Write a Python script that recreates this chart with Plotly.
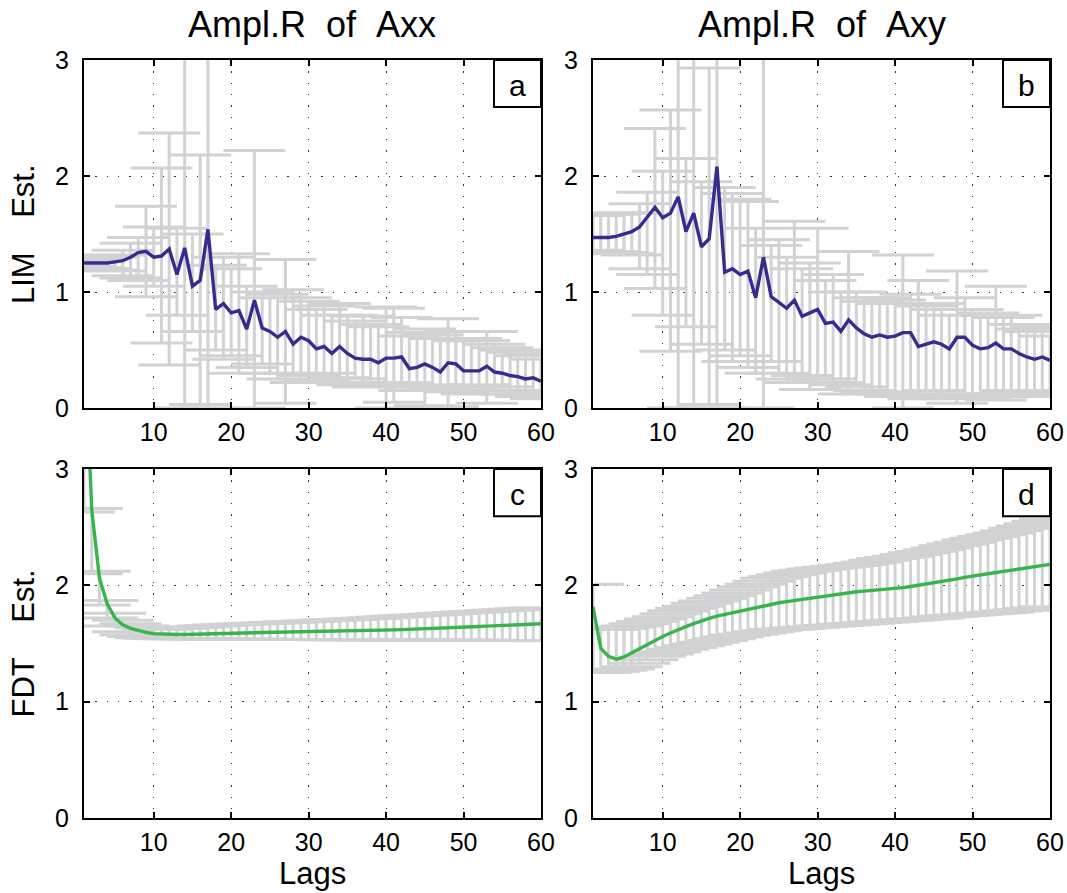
import plotly.graph_objects as go

# ---------------- data ----------------
lags = list(range(1, 61))

lim_axx = [1.25, 1.25, 1.25, 1.25, 1.26, 1.27, 1.30, 1.34, 1.35, 1.30,
           1.31, 1.37, 1.15, 1.38, 1.05, 1.10, 1.54, 0.85, 0.90, 0.82,
           0.84, 0.68, 0.93, 0.69, 0.66, 0.61, 0.66, 0.55, 0.61, 0.58,
           0.51, 0.53, 0.47, 0.53, 0.47, 0.43, 0.42, 0.42, 0.39, 0.43,
           0.43, 0.44, 0.34, 0.35, 0.38, 0.35, 0.31, 0.39, 0.38, 0.32,
           0.32, 0.32, 0.36, 0.31, 0.30, 0.28, 0.27, 0.25, 0.26, 0.23]
lim_axx_lo = [1.22, 1.21, 1.20, 1.19, 1.18, 1.14, 1.12, 1.10, 0.96, 1.05,
              0.56, 0.37, 0.80, 0.00, 0.66, 0.03, 0.00, 0.50, 0.42, 0.45,
              0.30, 0.35, 0.00, 0.38, 0.30, 0.25, 0.04, 0.30, 0.22, 0.28,
              0.24, 0.30, 0.22, 0.26, 0.20, 0.25, 0.18, 0.22, 0.20, 0.00,
              0.05, 0.22, 0.15, 0.18, 0.02, 0.20, 0.16, 0.01, 0.14, 0.18,
              0.12, 0.20, 0.04, 0.15, 0.18, 0.12, 0.15, 0.10, 0.14, 0.08]
lim_axx_hi = [1.27, 1.28, 1.29, 1.30, 1.32, 1.36, 1.42, 1.47, 1.74, 1.56,
              2.07, 2.37, 1.55, 3.20, 1.50, 2.18, 3.20, 1.23, 1.30, 1.20,
              1.33, 1.05, 2.22, 1.00, 0.95, 0.98, 1.28, 1.02, 0.95, 0.92,
              0.85, 0.88, 0.80, 0.90, 0.80, 0.75, 0.79, 0.72, 0.70, 0.87,
              0.86, 0.78, 0.62, 0.65, 0.68, 0.63, 0.60, 0.77, 0.66, 0.58,
              0.60, 0.58, 0.66, 0.55, 0.52, 0.50, 0.48, 0.45, 0.47, 0.42]

lim_axy = [1.47, 1.47, 1.47, 1.48, 1.50, 1.52, 1.56, 1.64, 1.73, 1.64,
           1.68, 1.82, 1.52, 1.68, 1.39, 1.46, 2.08, 1.17, 1.20, 1.15,
           1.18, 0.95, 1.30, 0.96, 0.91, 0.86, 0.93, 0.79, 0.82, 0.85,
           0.73, 0.74, 0.66, 0.76, 0.69, 0.64, 0.61, 0.63, 0.61, 0.62,
           0.65, 0.65, 0.53, 0.55, 0.57, 0.55, 0.51, 0.61, 0.61, 0.54,
           0.51, 0.52, 0.56, 0.51, 0.51, 0.47, 0.44, 0.42, 0.44, 0.41]
lim_axy_lo = [1.36, 1.35, 1.35, 1.34, 1.33, 1.32, 1.20, 1.15, 1.03, 0.80,
              0.49, 0.00, 0.70, 0.00, 0.55, 0.03, 0.00, 0.50, 0.40, 0.45,
              0.35, 0.30, 0.00, 0.40, 0.30, 0.25, 0.22, 0.28, 0.16, 0.25,
              0.25, 0.22, 0.20, 0.12, 0.18, 0.15, 0.14, 0.13, 0.12, 0.10,
              0.00, 0.12, 0.08, 0.12, 0.15, 0.10, 0.08, 0.04, 0.12, 0.10,
              0.09, 0.12, 0.07, 0.12, 0.15, 0.10, 0.12, 0.10, 0.13, 0.15]
lim_axy_hi = [1.66, 1.67, 1.67, 1.68, 1.68, 1.68, 1.76, 1.86, 2.41, 2.04,
              2.57, 3.20, 2.15, 3.20, 1.95, 2.93, 3.20, 1.90, 1.85, 1.80,
              1.78, 1.55, 3.20, 1.40, 1.45, 1.30, 1.61, 1.20, 1.25, 1.55,
              1.10, 1.15, 1.00, 1.35, 1.00, 0.95, 0.92, 0.95, 0.90, 0.93,
              1.32, 0.98, 1.10, 0.88, 0.90, 0.85, 0.80, 1.18, 0.95, 0.85,
              0.80, 0.82, 1.05, 0.78, 0.80, 0.72, 0.68, 0.66, 0.70, 0.62]

fdt_axx = [4.20, 2.65, 2.06, 1.84, 1.72, 1.66, 1.63, 1.61, 1.595, 1.585,
           1.580, 1.578, 1.577, 1.577, 1.578, 1.580, 1.582, 1.584, 1.586, 1.588,
           1.590, 1.591, 1.592, 1.594, 1.595, 1.596, 1.597, 1.598, 1.599, 1.600,
           1.601, 1.603, 1.604, 1.605, 1.607, 1.608, 1.610, 1.611, 1.613, 1.615,
           1.617, 1.619, 1.621, 1.623, 1.626, 1.628, 1.631, 1.634, 1.637, 1.640,
           1.643, 1.646, 1.649, 1.652, 1.655, 1.658, 1.661, 1.664, 1.667, 1.670]
fdt_axx_lo = [2.63, 2.10, 1.83, 1.72, 1.65, 1.60, 1.575, 1.56, 1.55, 1.545,
              1.542, 1.540, 1.540, 1.540, 1.539, 1.539, 1.538, 1.538, 1.538, 1.537,
              1.537, 1.537, 1.536, 1.536, 1.536, 1.535, 1.535, 1.535, 1.535, 1.534,
              1.534, 1.534, 1.533, 1.533, 1.533, 1.532, 1.532, 1.532, 1.531, 1.531,
              1.531, 1.530, 1.530, 1.530, 1.529, 1.529, 1.529, 1.528, 1.528, 1.528,
              1.527, 1.527, 1.527, 1.526, 1.526, 1.526, 1.525, 1.525, 1.525, 1.524]
fdt_axx_hi = [6.00, 2.66, 2.12, 1.87, 1.76, 1.70, 1.67, 1.65, 1.635, 1.625,
              1.625, 1.628, 1.632, 1.636, 1.640, 1.645, 1.650, 1.654, 1.658, 1.662,
              1.665, 1.668, 1.671, 1.674, 1.677, 1.680, 1.683, 1.686, 1.689, 1.692,
              1.695, 1.698, 1.701, 1.704, 1.707, 1.710, 1.714, 1.718, 1.722, 1.726,
              1.730, 1.734, 1.738, 1.742, 1.746, 1.750, 1.754, 1.758, 1.762, 1.766,
              1.770, 1.774, 1.778, 1.782, 1.786, 1.790, 1.794, 1.798, 1.802, 1.806]

fdt_axy = [1.815, 1.46, 1.39, 1.365, 1.385, 1.42, 1.46, 1.49, 1.53, 1.56,
           1.59, 1.62, 1.645, 1.67, 1.695, 1.715, 1.735, 1.75, 1.765, 1.78,
           1.795, 1.81, 1.825, 1.838, 1.85, 1.86, 1.87, 1.88, 1.89, 1.90,
           1.91, 1.92, 1.928, 1.936, 1.945, 1.95, 1.955, 1.96, 1.965, 1.97,
           1.98, 1.99, 2.00, 2.01, 2.02, 2.032, 2.044, 2.056, 2.068, 2.08,
           2.09, 2.10, 2.11, 2.12, 2.13, 2.14, 2.15, 2.16, 2.17, 2.18]
fdt_axy_lo = [1.26, 1.25, 1.26, 1.27, 1.28, 1.30, 1.33, 1.36, 1.39, 1.41,
              1.43, 1.45, 1.465, 1.48, 1.495, 1.51, 1.525, 1.54, 1.555, 1.57,
              1.58, 1.59, 1.60, 1.61, 1.62, 1.625, 1.63, 1.635, 1.64, 1.645,
              1.65, 1.655, 1.66, 1.665, 1.67, 1.675, 1.68, 1.685, 1.69, 1.695,
              1.70, 1.705, 1.71, 1.715, 1.72, 1.73, 1.735, 1.74, 1.745, 1.75,
              1.755, 1.76, 1.765, 1.77, 1.78, 1.785, 1.79, 1.80, 1.805, 1.815]
fdt_axy_hi = [2.01, 1.62, 1.62, 1.63, 1.64, 1.65, 1.67, 1.69, 1.71, 1.73,
              1.755, 1.78, 1.80, 1.82, 1.845, 1.865, 1.89, 1.91, 1.935, 1.96,
              1.985, 2.01, 2.035, 2.06, 2.075, 2.09, 2.105, 2.12, 2.13, 2.14,
              2.15, 2.155, 2.165, 2.17, 2.18, 2.19, 2.20, 2.215, 2.23, 2.24,
              2.25, 2.265, 2.28, 2.29, 2.305, 2.32, 2.34, 2.355, 2.37, 2.39,
              2.405, 2.42, 2.435, 2.45, 2.47, 2.49, 2.51, 2.53, 2.55, 2.57]

col_titles = ["Ampl.R\u00a0\u00a0of\u00a0\u00a0Axx", "Ampl.R\u00a0\u00a0of\u00a0\u00a0Axy"]
row_titles = ["LIM\u00a0\u00a0\u00a0\u00a0Est.", "FDT\u00a0\u00a0\u00a0\u00a0Est."]
panel_letters = ["a", "b", "c", "d"]
x_ticks = [10, 20, 30, 40, 50, 60]
y_ticks = [0, 1, 2, 3]

# ---------------- styling ----------------
W, H = 1067, 893
FONT = "Liberation Sans, Arial, Helvetica, sans-serif"
BLUE = "#372c8e"
GREEN = "#37b54a"
GREY = "#d1d2d4"

xdom = [[84 / W, 541 / W], [593 / W, 1050 / W]]
ydom = [[(H - 408) / H, (H - 60) / H], [(H - 818) / H, (H - 469) / H]]

panels = [
    (lim_axx, lim_axx_lo, lim_axx_hi, BLUE, 0, 0),
    (lim_axy, lim_axy_lo, lim_axy_hi, BLUE, 0, 1),
    (fdt_axx, fdt_axx_lo, fdt_axx_hi, GREEN, 1, 0),
    (fdt_axy, fdt_axy_lo, fdt_axy_hi, GREEN, 1, 1),
]

fig = go.Figure()
layout = dict(
    width=W, height=H,
    margin=dict(l=0, r=0, t=0, b=0, pad=0),
    paper_bgcolor="white", plot_bgcolor="white",
    showlegend=False,
    font=dict(family=FONT, color="black"),
)

shapes = []
annotations = []
for i, (val, lo, hi, col, r, c) in enumerate(panels):
    n = i + 1
    xa = "x" if n == 1 else f"x{n}"
    ya = "y" if n == 1 else f"y{n}"
    plus = [h - v for h, v in zip(hi, val)]
    minus = [v - l for v, l in zip(val, lo)]
    fig.add_trace(go.Scatter(
        x=lags, y=val, xaxis=xa, yaxis=ya, mode="markers",
        marker=dict(size=2, opacity=0),
        error_y=dict(type="data", symmetric=False, array=plus, arrayminus=minus,
                     color=GREY, thickness=3, width=31),
        hoverinfo="skip",
    ))
    fig.add_trace(go.Scatter(
        x=lags, y=val, xaxis=xa, yaxis=ya, mode="lines",
        line=dict(color=col, width=3.4),
    ))
    axcommon = dict(
        showline=True, linecolor="black", linewidth=2, mirror="ticks",
        ticks="inside", ticklen=6, tickwidth=1.5, tickcolor="black",
        showgrid=True, gridcolor="#333333", gridwidth=1.2, griddash="1.3px,10px",
        zeroline=False, tickfont=dict(size=25, family=FONT, color="black"),
        automargin=False,
    )
    layout["xaxis" if n == 1 else f"xaxis{n}"] = dict(
        domain=xdom[c], range=[1, 60], tickvals=x_ticks, anchor=ya,
        ticklabelstandoff=1, **axcommon)
    layout["yaxis" if n == 1 else f"yaxis{n}"] = dict(
        domain=ydom[r], range=[0, 3], tickvals=y_ticks, anchor=xa,
        ticklabelstandoff=8, **axcommon)

    # letter box
    shapes.append(dict(type="rect", xref=f"{xa} domain", yref=f"{ya} domain",
                       x0=(494 - 84) / 457, x1=1, y0=1 - 47 / 348, y1=1,
                       line=dict(color="black", width=2), fillcolor="white",
                       layer="above"))
    annotations.append(dict(text=panel_letters[i], xref=f"{xa} domain", yref=f"{ya} domain",
                            x=1 - 23.5 / 457, y=1 - 25 / 348, showarrow=False,
                            xanchor="center", yanchor="middle",
                            font=dict(size=30, family=FONT, color="black")))

# column titles
for c in range(2):
    annotations.append(dict(text=col_titles[c], xref="paper", yref="paper",
                            x=(xdom[c][0] + xdom[c][1]) / 2, y=1 - 25 / H,
                            xanchor="center", yanchor="middle", showarrow=False,
                            font=dict(size=36, family=FONT, color="black")))
    annotations.append(dict(text="Lags", xref="paper", yref="paper",
                            x=(xdom[c][0] + xdom[c][1]) / 2, y=1 - 873 / H,
                            xanchor="center", yanchor="middle", showarrow=False,
                            borderpad=0,
                            font=dict(size=31, family=FONT, color="black")))
# row titles
for r in range(2):
    annotations.append(dict(text=row_titles[r], xref="paper", yref="paper",
                            x=23 / W, y=(ydom[r][0] + ydom[r][1]) / 2,
                            xanchor="center", yanchor="middle", showarrow=False,
                            textangle=-90,
                            font=dict(size=31, family=FONT, color="black")))

layout["shapes"] = shapes
layout["annotations"] = annotations
fig.update_layout(**layout)
fig.write_html(
    "out.html",
    config={"displayModeBar": False},
    post_script="document.body.style.margin='0';document.body.style.overflow='hidden';",
)
